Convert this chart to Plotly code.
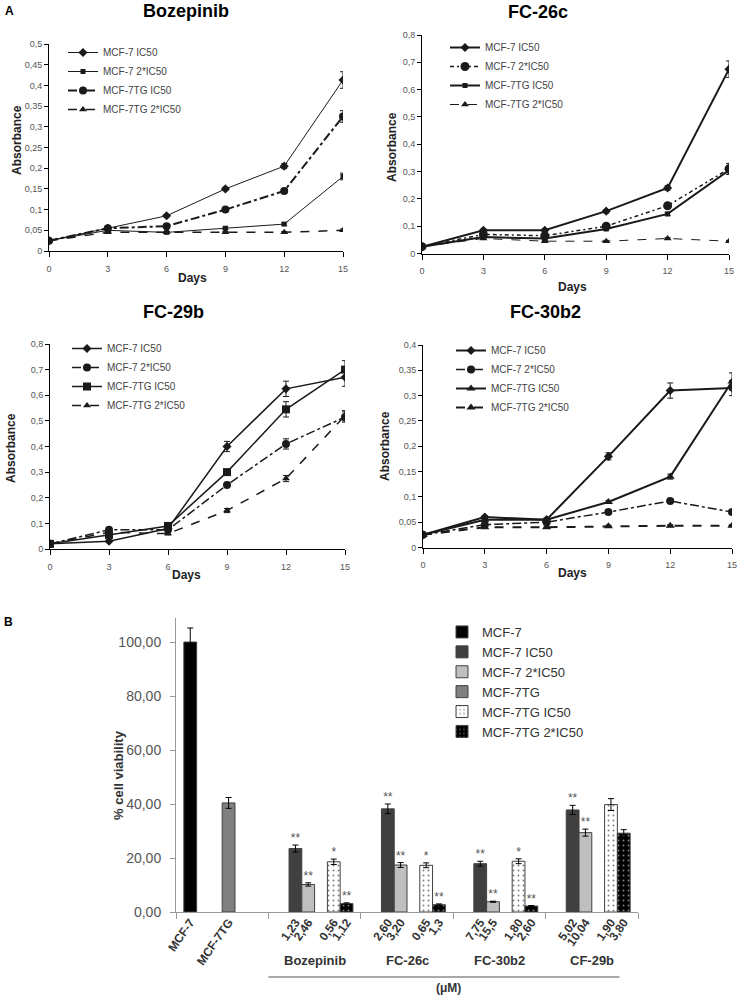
import plotly.graph_objects as go

# ---------------- DATA ----------------
days = [0, 3, 6, 9, 12, 15]
series_names = ["MCF-7 IC50", "MCF-7 2*IC50", "MCF-7TG IC50", "MCF-7TG 2*IC50"]

boz_ic50 = [0.025, 0.055, 0.085, 0.150, 0.205, 0.413]
boz_ic50_err = [0.003, 0.003, 0.003, 0.004, 0.006, 0.020]
boz_2ic50 = [0.025, 0.050, 0.045, 0.055, 0.065, 0.180]
boz_2ic50_err = [0.003, 0.003, 0.002, 0.003, 0.003, 0.008]
boz_tg_ic50 = [0.025, 0.055, 0.060, 0.100, 0.145, 0.325]
boz_tg_ic50_err = [0.003, 0.003, 0.003, 0.004, 0.006, 0.014]
boz_tg_2ic50 = [0.025, 0.045, 0.045, 0.045, 0.045, 0.050]
boz_tg_2ic50_err = [0.002, 0.002, 0.002, 0.002, 0.002, 0.003]

fc26_ic50 = [0.025, 0.085, 0.085, 0.155, 0.240, 0.675]
fc26_ic50_err = [0.003, 0.004, 0.004, 0.006, 0.008, 0.030]
fc26_2ic50 = [0.025, 0.070, 0.065, 0.100, 0.175, 0.310]
fc26_2ic50_err = [0.003, 0.004, 0.004, 0.005, 0.008, 0.020]
fc26_tg_ic50 = [0.025, 0.060, 0.055, 0.090, 0.145, 0.305]
fc26_tg_ic50_err = [0.003, 0.004, 0.004, 0.005, 0.006, 0.015]
fc26_tg_2ic50 = [0.025, 0.055, 0.045, 0.045, 0.055, 0.045]
fc26_tg_2ic50_err = [0.002, 0.003, 0.003, 0.003, 0.003, 0.003]

fc29_ic50 = [0.020, 0.030, 0.080, 0.400, 0.625, 0.670]
fc29_ic50_err = [0.003, 0.005, 0.005, 0.020, 0.030, 0.035]
fc29_2ic50 = [0.020, 0.075, 0.075, 0.250, 0.410, 0.515]
fc29_2ic50_err = [0.003, 0.005, 0.005, 0.010, 0.020, 0.020]
fc29_tg_ic50 = [0.020, 0.055, 0.090, 0.300, 0.545, 0.700]
fc29_tg_ic50_err = [0.003, 0.005, 0.005, 0.010, 0.030, 0.035]
fc29_tg_2ic50 = [0.020, 0.065, 0.060, 0.150, 0.275, 0.520]
fc29_tg_2ic50_err = [0.003, 0.005, 0.005, 0.008, 0.012, 0.020]

fc30_ic50 = [0.025, 0.060, 0.055, 0.180, 0.310, 0.315]
fc30_ic50_err = [0.002, 0.003, 0.003, 0.007, 0.015, 0.015]
fc30_2ic50 = [0.025, 0.045, 0.050, 0.070, 0.092, 0.070]
fc30_2ic50_err = [0.002, 0.002, 0.002, 0.003, 0.003, 0.003]
fc30_tg_ic50 = [0.025, 0.055, 0.055, 0.090, 0.140, 0.328]
fc30_tg_ic50_err = [0.002, 0.003, 0.003, 0.003, 0.005, 0.017]
fc30_tg_2ic50 = [0.025, 0.040, 0.040, 0.042, 0.043, 0.043]
fc30_tg_2ic50_err = [0.002, 0.002, 0.002, 0.002, 0.002, 0.002]

# Panel B
bar_categories = [0, 1, 2, 3, 4]
group_labels = ["Bozepinib", "FC-26c", "FC-30b2", "CF-29b"]
bar_series = ["MCF-7", "MCF-7 IC50", "MCF-7 2*IC50", "MCF-7TG", "MCF-7TG IC50", "MCF-7TG 2*IC50"]
mcf7 = [100.0, None, None, None, None]
mcf7_err = [5.2, None, None, None, None]
mcf7_ic50 = [None, 23.5, 38.2, 17.9, 37.8]
mcf7_ic50_err = [None, 1.3, 1.8, 0.9, 1.7]
mcf7_2ic50 = [None, 10.2, 17.4, 3.8, 29.4]
mcf7_2ic50_err = [None, 0.6, 0.9, 0.2, 1.3]
mcf7tg = [40.4, None, None, None, None]
mcf7tg_err = [2.0, None, None, None, None]
mcf7tg_ic50 = [None, 18.6, 17.3, 18.8, 39.8]
mcf7tg_ic50_err = [None, 1.0, 0.9, 0.9, 2.2]
mcf7tg_2ic50 = [None, 3.1, 2.7, 2.2, 29.2]
mcf7tg_2ic50_err = [None, 0.3, 0.3, 0.2, 1.3]

sig_mcf7 = ["", "", "", "", ""]
sig_ic50 = ["", "**", "**", "**", "**"]
sig_2ic50 = ["", "**", "**", "**", "**"]
sig_tg = ["", "", "", "", ""]
sig_tg_ic50 = ["", "*", "*", "*", ""]
sig_tg_2ic50 = ["", "**", "**", "**", ""]

# tick labels under each bar slot (per series, per category)
lab_mcf7 = ["MCF-7", "", "", "", ""]
lab_ic50 = ["", "1,23", "2,60", "7,75", "5,02"]
lab_2ic50 = ["", "2,46", "3,20", "15,5", "10,04"]
lab_tg = ["MCF-7TG", "", "", "", ""]
lab_tg_ic50 = ["", "0,56", "0,65", "1,80", "1,90"]
lab_tg_2ic50 = ["", "1,12", "1,3", "2,60", "3,80"]

# ---------------- FIGURE ----------------
W, H = 740, 996
FONT = "Arial, Liberation Sans, sans-serif"
LC = "#1a1a1a"


def xp(p):
    return p / W


def yp(p):
    return 1 - p / H


fig = go.Figure()

panels = [
    dict(ax="", legend="legend",
         data=[(boz_ic50, boz_ic50_err), (boz_2ic50, boz_2ic50_err),
               (boz_tg_ic50, boz_tg_ic50_err), (boz_tg_2ic50, boz_tg_2ic50_err)],
         styles=[("solid", 1, "diamond", 7), ("solid", 1, "square", 5),
                 ("dashdot", 2, "circle", 8), ("dash", 1.5, "triangle-up", 7)]),
    dict(ax="2", legend="legend2",
         data=[(fc26_ic50, fc26_ic50_err), (fc26_2ic50, fc26_2ic50_err),
               (fc26_tg_ic50, fc26_tg_ic50_err), (fc26_tg_2ic50, fc26_tg_2ic50_err)],
         styles=[("solid", 2, "diamond", 7), ("4px,3px,2px,3px", 1.5, "circle", 9),
                 ("solid", 2, "square", 5), ("dash", 1, "triangle-up", 7)]),
    dict(ax="3", legend="legend3",
         data=[(fc29_ic50, fc29_ic50_err), (fc29_2ic50, fc29_2ic50_err),
               (fc29_tg_ic50, fc29_tg_ic50_err), (fc29_tg_2ic50, fc29_tg_2ic50_err)],
         styles=[("solid", 1.5, "diamond", 7), ("dashdot", 1.5, "circle", 8),
                 ("solid", 1.5, "square", 8), ("dash", 1.5, "triangle-up", 7)]),
    dict(ax="4", legend="legend4",
         data=[(fc30_ic50, fc30_ic50_err), (fc30_2ic50, fc30_2ic50_err),
               (fc30_tg_ic50, fc30_tg_ic50_err), (fc30_tg_2ic50, fc30_tg_2ic50_err)],
         styles=[("solid", 2, "diamond", 7), ("dashdot", 1.5, "circle", 8),
                 ("solid", 2, "triangle-up", 8), ("dash", 2, "triangle-up", 8)]),
]

for p in panels:
    for name, (vals, errs), (dash, lw, sym, ms) in zip(series_names, p["data"], p["styles"]):
        fig.add_trace(go.Scatter(
            x=days, y=vals, name=name, mode="lines+markers",
            xaxis="x" + p["ax"], yaxis="y" + p["ax"], legend=p["legend"],
            line=dict(color=LC, width=lw, dash=dash),
            marker=dict(symbol=sym, size=ms, color=LC),
            error_y=dict(type="data", array=errs, color=LC, thickness=1, width=3),
        ))

# Bar chart traces
bar_colors = ["#000000", "#404040", "#bfbfbf", "#808080", "#ffffff", "#000000"]
bar_patterns = [None, None, None, None,
                dict(shape=".", fgcolor="#000000", bgcolor="#ffffff", size=5, solidity=0.12),
                dict(shape=".", fgcolor="#ffffff", bgcolor="#000000", size=5, solidity=0.12)]
bar_vals = [mcf7, mcf7_ic50, mcf7_2ic50, mcf7tg, mcf7tg_ic50, mcf7tg_2ic50]
bar_errs = [mcf7_err, mcf7_ic50_err, mcf7_2ic50_err, mcf7tg_err, mcf7tg_ic50_err, mcf7tg_2ic50_err]
bar_sigs = [sig_mcf7, sig_ic50, sig_2ic50, sig_tg, sig_tg_ic50, sig_tg_2ic50]
bar_labs = [lab_mcf7, lab_ic50, lab_2ic50, lab_tg, lab_tg_ic50, lab_tg_2ic50]

BARGAP = 0.17
nser = len(bar_series)
slot_w = (1 - BARGAP) / nser


def slot_x(c, i):
    return c - 0.5 + BARGAP / 2 + slot_w * (i + 0.5)


for i, name in enumerate(bar_series):
    mk = dict(color=bar_colors[i], line=dict(color="#404040", width=1))
    if bar_patterns[i]:
        mk["pattern"] = bar_patterns[i]
    fig.add_trace(go.Bar(
        x=bar_categories, y=bar_vals[i], name=name, marker=mk,
        xaxis="x5", yaxis="y5", legend="legend5",
        error_y=dict(type="data", array=bar_errs[i], color="#000000", thickness=1, width=3),
    ))

# significance asterisks (on the overlay axis, which shares the range of x5)
sx, sy, st = [], [], []
for i in range(nser):
    for c in bar_categories:
        if bar_sigs[i][c]:
            sx.append(slot_x(c, i))
            sy.append(bar_vals[i][c] + bar_errs[i][c])
            st.append(bar_sigs[i][c])
fig.add_trace(go.Scatter(x=sx, y=sy, text=st, mode="text", textposition="top center",
                         textfont=dict(size=12, color="#555555", family=FONT),
                         xaxis="x6", yaxis="y5", showlegend=False, hoverinfo="skip"))

# slot tick labels
tvals, ttext = [], []
for c in bar_categories:
    for i in range(nser):
        if bar_labs[i][c]:
            tvals.append(slot_x(c, i))
            ttext.append(bar_labs[i][c])

# ---------------- LAYOUT ----------------
axis_font = dict(family=FONT, size=9, color="#555555")
common_x = dict(range=[0, 15], tickvals=days, showline=True, linecolor="#000000", linewidth=1,
                ticks="outside", ticklen=5, tickcolor="#000000", showgrid=False, zeroline=False,
                tickfont=axis_font, automargin=False, ticklabeloverflow="allow",
                ticklabelstandoff=4)
common_y = dict(showline=True, linecolor="#000000", linewidth=1, ticks="outside", ticklen=4,
                tickcolor="#000000", showgrid=False, zeroline=False, tickfont=axis_font,
                automargin=False, ticklabeloverflow="allow")

layout = dict(
    width=W, height=H, margin=dict(l=0, r=0, t=0, b=0, autoexpand=False),
    paper_bgcolor="white", plot_bgcolor="white",
    separators=",.", barmode="group", bargap=BARGAP, bargroupgap=0,
    font=dict(family=FONT, color="#333333"),
    xaxis=dict(common_x, domain=[xp(49), xp(343)], anchor="y"),
    yaxis=dict(common_y, domain=[yp(251), yp(44)], range=[0, 0.5], dtick=0.05, anchor="x"),
    xaxis2=dict(common_x, domain=[xp(422), xp(729)], anchor="y2"),
    yaxis2=dict(common_y, domain=[yp(253.5), yp(35)], range=[0, 0.8], dtick=0.1, anchor="x2"),
    xaxis3=dict(common_x, domain=[xp(50), xp(345)], anchor="y3"),
    yaxis3=dict(common_y, domain=[yp(549), yp(344)], range=[0, 0.8], dtick=0.1, anchor="x3"),
    xaxis4=dict(common_x, domain=[xp(423), xp(732)], anchor="y4"),
    yaxis4=dict(common_y, domain=[yp(547.5), yp(345)], range=[0, 0.4], dtick=0.05, anchor="x4"),
    xaxis5=dict(domain=[xp(176), xp(638)], anchor="y5", range=[-0.5, 4.5], type="linear",
                tickvals=[-0.5, 0.5, 1.5, 2.5, 3.5, 4.5], showticklabels=False,
                showline=True, linecolor="#999999", linewidth=1, ticks="outside", ticklen=6,
                tickcolor="#999999", showgrid=False, zeroline=False, automargin=False),
    xaxis6=dict(overlaying="x5", anchor="y5", range=[-0.5, 4.5], type="linear", side="bottom",
                tickvals=tvals, ticktext=ttext, tickangle=-55, ticks="", showline=False,
                showgrid=False, zeroline=False, automargin=False,
                tickfont=dict(family=FONT, size=12, color="#333333", weight="bold")),
    yaxis5=dict(domain=[yp(912), yp(618)], anchor="x5", range=[0, 108.9], dtick=20,
                tickformat=".2f", showline=True, linecolor="#999999", linewidth=1,
                ticks="outside", ticklen=5, tickcolor="#999999", showgrid=False, zeroline=False,
                automargin=False, ticklabelstandoff=6,
                tickfont=dict(family=FONT, size=14, color="#555555")),
)

leg_common = dict(xanchor="left", yanchor="top", bgcolor="rgba(0,0,0,0)", borderwidth=0,
                  font=dict(family=FONT, size=10, color="#444444"), tracegroupgap=0,
                  itemwidth=30, itemclick=False)
layout["legend"] = dict(leg_common, x=xp(63), y=yp(38))
layout["legend2"] = dict(leg_common, x=xp(445), y=yp(33))
layout["legend3"] = dict(leg_common, x=xp(67), y=yp(334))
layout["legend4"] = dict(leg_common, x=xp(451), y=yp(336))
layout["legend5"] = dict(xanchor="left", yanchor="top", bgcolor="rgba(0,0,0,0)",
                         x=xp(442), y=yp(617), tracegroupgap=0, itemwidth=30,
                         font=dict(family=FONT, size=13, color="#333333"))

fig.update_layout(**layout)

ann = []


def add_text(x, y, text, size, color="#000000", bold=True, angle=0, xref="paper"):
    ann.append(dict(x=x, y=y, xref=xref, yref="paper", text=text, showarrow=False,
                    xanchor="center", yanchor="middle", textangle=angle,
                    font=dict(family=FONT, size=size, color=color,
                              weight="bold" if bold else "normal")))


# panel titles
add_text(xp(186), yp(11), "Bozepinib", 18)
add_text(xp(538), yp(12), "FC-26c", 18)
add_text(xp(173), yp(312), "FC-29b", 18)
add_text(xp(545), yp(312), "FC-30b2", 18)
# axis titles
for ax_x, ax_y in [(17, 140), (392, 147), (11, 448), (385, 446)]:
    add_text(xp(ax_x), yp(ax_y), "Absorbance", 12, "#222222", angle=-90)
for dx, dy in [(192, 278), (572, 287), (187, 575), (572, 573)]:
    add_text(xp(dx), yp(dy), "Days", 12, "#222222")
# panel letters
add_text(xp(9), yp(11), "A", 12)
add_text(xp(8), yp(622), "B", 12)
# panel B text
add_text(xp(118), yp(775), "% cell viability", 13, "#333333", angle=-90)
for c, g in zip(bar_categories[1:], group_labels):
    add_text(c, yp(960), g, 13, "#333333", xref="x5")
add_text(xp(448), yp(988), "(μM)", 12, "#333333")

fig.update_layout(annotations=ann)
fig.add_shape(type="line", xref="x5", yref="paper", x0=0.5, x1=4.3, y0=yp(977), y1=yp(977),
              line=dict(color="#555555", width=1))

fig.write_html("out.html", config={"displayModeBar": False},
               post_script="document.body.style.margin='0px';document.body.style.overflow='hidden';")
